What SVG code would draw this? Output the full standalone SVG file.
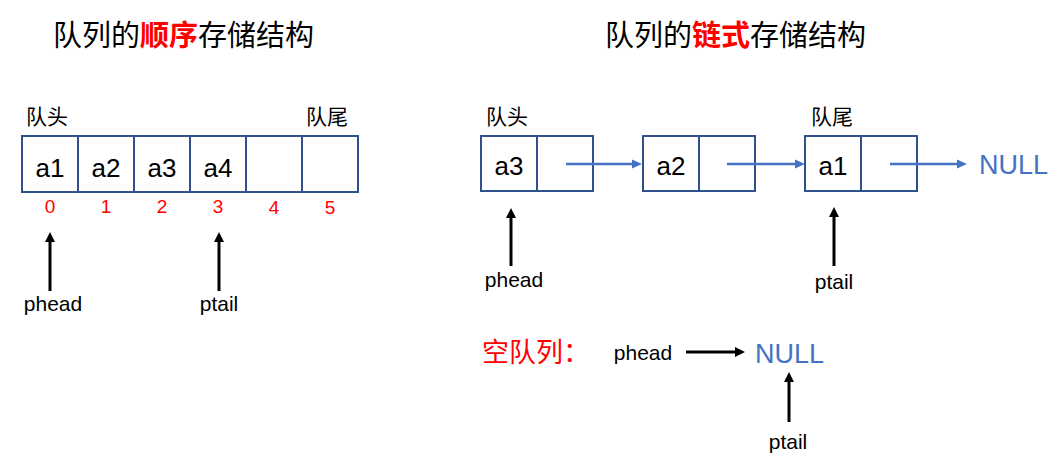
<svg xmlns="http://www.w3.org/2000/svg" width="1061" height="467" viewBox="0 0 1061 467">
<style>
.cjk{font-family:"Noto Sans CJK SC","Noto Sans",sans-serif;fill:#000}
.lat{font-family:"Liberation Sans",Arial,sans-serif;fill:#000}
.red{fill:#FF0000}
.blue{fill:#4472C4}
.box{fill:#fff;stroke:#2F528F;stroke-width:2}
.cell{font-family:"Liberation Sans",Arial,sans-serif;font-size:26px;fill:#000;text-anchor:middle}
.idx{font-family:"Liberation Sans",Arial,sans-serif;font-size:19px;fill:#FF0000;text-anchor:middle}
.blk{stroke:#000;stroke-width:3;fill:none}
.bl{stroke:#4472C4;stroke-width:2.5;fill:none}
</style>
<defs>
<marker id="ah" markerUnits="userSpaceOnUse" markerWidth="11" markerHeight="11" refX="1" refY="5" orient="auto">
<path d="M0,0 L10,5 L0,10 z" fill="#000"/>
</marker>
<marker id="ahb" markerUnits="userSpaceOnUse" markerWidth="11" markerHeight="11" refX="1" refY="5" orient="auto">
<path d="M0,0.5 L10,5 L0,9.5 z" fill="#4472C4"/>
</marker>
</defs>
<rect width="1061" height="467" fill="#fff"/>

<!-- titles -->
<text class="cjk" x="53" y="46" font-size="29">队列的<tspan class="red" font-weight="bold">顺序</tspan>存储结构</text>
<text class="cjk" x="605" y="46" font-size="29">队列的<tspan class="red" font-weight="bold">链式</tspan>存储结构</text>

<!-- sequential array -->
<g id="array">
<g id="cell0"><rect class="box" x="22" y="136" width="56" height="56"/><text class="cell" x="50" y="177">a1</text></g>
<g id="cell1"><rect class="box" x="78" y="136" width="56" height="56"/><text class="cell" x="106" y="177">a2</text></g>
<g id="cell2"><rect class="box" x="134" y="136" width="56" height="56"/><text class="cell" x="162" y="177">a3</text></g>
<g id="cell3"><rect class="box" x="190" y="136" width="56" height="56"/><text class="cell" x="218" y="177">a4</text></g>
<g id="cell4"><rect class="box" x="246" y="136" width="56" height="56"/></g>
<g id="cell5"><rect class="box" x="302" y="136" width="56" height="56"/></g>
</g>
<g id="array-labels">
<text class="cjk" x="26" y="124" font-size="21">队头</text>
<text class="cjk" x="306" y="124" font-size="21">队尾</text>
<text class="idx" x="50" y="213">0</text>
<text class="idx" x="106" y="213">1</text>
<text class="idx" x="162" y="213">2</text>
<text class="idx" x="218" y="213">3</text>
<text class="idx" x="274" y="214">4</text>
<text class="idx" x="330" y="214">5</text>
<text class="lat" x="53" y="311" font-size="21" text-anchor="middle">phead</text>
<text class="lat" x="219" y="311" font-size="21" text-anchor="middle">ptail</text>
</g>

<!-- linked list -->
<g id="node-a3"><rect class="box" x="481" y="136" width="56" height="55"/><rect class="box" x="537" y="136" width="56" height="55"/><text class="cell" x="509" y="175">a3</text></g>
<g id="node-a2"><rect class="box" x="643" y="136" width="56" height="55"/><rect class="box" x="699" y="136" width="56" height="55"/><text class="cell" x="671" y="175">a2</text></g>
<g id="node-a1"><rect class="box" x="805" y="136" width="56" height="55"/><rect class="box" x="861" y="136" width="56" height="55"/><text class="cell" x="833" y="175">a1</text></g>
<g id="null1"><text class="lat blue" x="979" y="174" font-size="27">NULL</text></g>
<g id="list-labels">
<text class="cjk" x="486" y="124" font-size="21">队头</text>
<text class="cjk" x="811" y="124" font-size="21">队尾</text>
<text class="lat" x="514" y="287" font-size="21" text-anchor="middle">phead</text>
<text class="lat" x="834" y="289" font-size="21" text-anchor="middle">ptail</text>
</g>

<!-- empty queue -->
<g id="empty">
<text class="cjk red" x="482" y="362" font-size="27">空队列：</text>
<text class="lat" x="643" y="360" font-size="21" text-anchor="middle">phead</text>
<text class="lat blue" x="755" y="363" font-size="27">NULL</text>
<text class="lat" x="788" y="449" font-size="21" text-anchor="middle">ptail</text>
</g>

<g id="connectors">
<line class="blk" x1="50" y1="291" x2="50" y2="241" marker-end="url(#ah)"/>
<line class="blk" x1="219" y1="291" x2="219" y2="241" marker-end="url(#ah)"/>
<line class="bl" x1="566" y1="164" x2="633" y2="164" marker-end="url(#ahb)"/>
<line class="bl" x1="727" y1="164" x2="796" y2="164" marker-end="url(#ahb)"/>
<line class="bl" x1="890" y1="164" x2="958" y2="164" marker-end="url(#ahb)"/>
<line class="blk" x1="511" y1="266" x2="511" y2="217" marker-end="url(#ah)"/>
<line class="blk" x1="834" y1="266" x2="834" y2="216" marker-end="url(#ah)"/>
<line class="blk" x1="686" y1="352" x2="736" y2="352" marker-end="url(#ah)"/>
<line class="blk" x1="789" y1="422" x2="789" y2="381" marker-end="url(#ah)"/>
</g>
</svg>
